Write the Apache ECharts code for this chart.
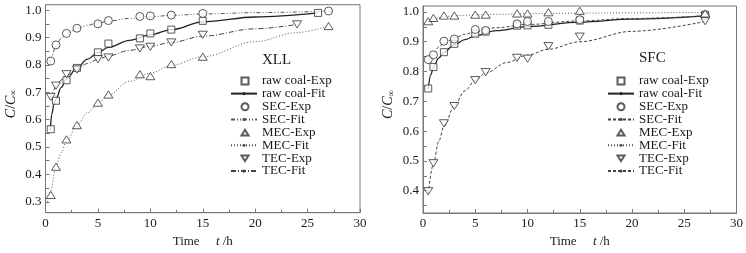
<!DOCTYPE html>
<html>
<head>
<meta charset="utf-8">
<script src="https://cdn.jsdelivr.net/npm/echarts@6.0.0/dist/echarts.min.js"></script>
<style>
  html, body { margin: 0; padding: 0; background: #fff; }
  #main { width: 746px; height: 253px; }
</style>
</head>
<body>
<div id="main"></div>
<script>
// measurement times (h)
var tExp = [0.5, 1, 2, 3, 5, 6, 9, 10, 12, 15, 27];
var tRawXLL = [0.5, 1, 2, 3, 5, 6, 9, 10, 12, 15, 26];
var tTecXLL = [0.5, 1, 2, 3, 5, 6, 9, 10, 12, 15, 24];

// XLL experimental C/C∞
var rawXLL = [0.565, 0.669, 0.744, 0.789, 0.846, 0.878, 0.897, 0.915, 0.929, 0.961, 0.990];
var secXLL = [0.814, 0.873, 0.915, 0.934, 0.950, 0.962, 0.977, 0.979, 0.982, 0.988, 0.997];
var mecXLL = [0.325, 0.428, 0.528, 0.580, 0.662, 0.692, 0.766, 0.759, 0.803, 0.830, 0.942];
var tecXLL = [0.683, 0.724, 0.766, 0.783, 0.821, 0.827, 0.860, 0.866, 0.882, 0.910, 0.948];

// XLL fitted curves
var rawFitT_XLL = [0.45, 0.6, 0.8, 1, 1.5, 2, 3, 4, 5, 6, 8, 10, 12, 15, 20, 26];
var rawFit_XLL  = [0.56, 0.62, 0.655, 0.675, 0.718, 0.748, 0.789, 0.821, 0.845, 0.864, 0.890, 0.910, 0.929, 0.957, 0.975, 0.990];
var secFitT_XLL = [0.45, 0.6, 1, 1.5, 2, 3, 4, 5, 6, 8, 10, 12, 15, 20, 27.5];
var secFit_XLL  = [0.805, 0.835, 0.870, 0.897, 0.913, 0.933, 0.945, 0.953, 0.960, 0.970, 0.976, 0.981, 0.986, 0.991, 0.997];
var mecFitT_XLL = [0.2, 0.5, 1, 1.5, 2, 3, 4, 5, 6, 8, 10, 12, 15, 20, 24, 27];
var mecFit_XLL  = [0.300, 0.340, 0.430, 0.480, 0.520, 0.580, 0.625, 0.660, 0.690, 0.740, 0.770, 0.798, 0.830, 0.885, 0.918, 0.942];
var tecFitT_XLL = [0.4, 0.6, 1, 1.5, 2, 3, 4, 5, 6, 8, 10, 12, 15, 20, 24];
var tecFit_XLL  = [0.675, 0.695, 0.722, 0.745, 0.762, 0.785, 0.805, 0.820, 0.833, 0.853, 0.868, 0.882, 0.905, 0.932, 0.948];

// SFC experimental C/C∞
var rawSFC = [0.743, 0.815, 0.865, 0.893, 0.927, 0.934, 0.954, 0.955, 0.957, 0.971, 0.991];
var secSFC = [0.840, 0.856, 0.902, 0.909, 0.941, 0.938, 0.960, 0.968, 0.968, 0.974, 0.988];
var mecSFC = [0.969, 0.980, 0.988, 0.988, 0.991, 0.991, 0.995, 0.995, 0.999, 1.004, 0.995];
var tecSFC = [0.398, 0.492, 0.626, 0.684, 0.771, 0.798, 0.846, 0.843, 0.885, 0.917, 0.969];

// SFC fitted curves
var rawFitT_SFC = [0.5, 0.75, 1, 1.5, 2, 3, 4, 5, 7, 10, 15, 20, 27];
var rawFit_SFC  = [0.740, 0.790, 0.815, 0.845, 0.865, 0.890, 0.907, 0.920, 0.937, 0.951, 0.966, 0.976, 0.987];
var secFitT_SFC = [0.5, 1, 1.5, 2, 3, 4, 5, 7, 10, 15, 20, 27];
var secFit_SFC  = [0.835, 0.862, 0.882, 0.895, 0.912, 0.925, 0.934, 0.947, 0.958, 0.970, 0.978, 0.987];
var mecFitT_SFC = [0.5, 1, 2, 3, 5, 7, 10, 15, 20, 27];
var mecFit_SFC  = [0.968, 0.977, 0.984, 0.987, 0.990, 0.992, 0.994, 0.996, 0.997, 0.998];
var tecFitT_SFC = [0.5, 1, 1.5, 2, 3, 4, 5, 6, 8, 10, 12, 15, 20, 27];
var tecFit_SFC  = [0.390, 0.490, 0.565, 0.615, 0.685, 0.735, 0.770, 0.795, 0.830, 0.855, 0.875, 0.900, 0.935, 0.968];

// tick labels
var yLabelsXLL = [0.3, 0.4, 0.5, 0.6, 0.7, 0.8, 0.9, 1.0];
var yTicksXLL = [0.3, 0.35, 0.4, 0.45, 0.5, 0.55, 0.6, 0.65, 0.7, 0.75, 0.8, 0.85, 0.9, 0.95, 1.0];
var yLabelsSFC = [0.4, 0.5, 0.6, 0.7, 0.8, 0.9, 1.0];
var yTicksSFC = [0.35, 0.4, 0.45, 0.5, 0.55, 0.6, 0.65, 0.7, 0.75, 0.8, 0.85, 0.9, 0.95, 1.0];

var expNames = ['raw coal-Exp', 'SEC-Exp', 'MEC-Exp', 'TEC-Exp'];
var fitNames = ['raw coal-Fit', 'SEC-Fit', 'MEC-Fit', 'TEC-Fit'];

var FONT = '"Liberation Serif", "Times New Roman", serif';
var AX = '#777';
var TXT = '#1a1a1a';
var UP = 'path://M1,0L2,1.6L0,1.6Z';
var DOWN = 'path://M0,0L2,0L1,1.6Z';

function pairs(ts, vs) {
    return ts.map(function (t, i) { return [t, vs[i]]; });
}

function xAxisFor(gi) {
    return {
        type: 'value', gridIndex: gi, min: 0, max: 30, interval: 5,
        axisLine: { lineStyle: { color: AX } },
        axisTick: { inside: true, length: 4, lineStyle: { color: AX } },
        minorTick: { show: true, splitNumber: 2, length: 3, lineStyle: { color: AX } },
        splitLine: { show: false },
        axisLabel: { color: TXT, fontFamily: FONT, fontSize: 13, margin: 4 },
        name: 'Time     {i|t} /h',
        nameLocation: 'middle',
        nameGap: 22,
        nameTextStyle: {
            color: TXT, fontFamily: FONT, fontSize: 13,
            rich: { i: { fontStyle: 'italic', fontFamily: FONT, fontSize: 13, color: TXT } }
        }
    };
}

function yAxisFor(gi, min, labels, ticks) {
    return {
        type: 'value', gridIndex: gi, min: min, max: 1.02,
        axisLine: { show: true, lineStyle: { color: AX } },
        axisTick: { inside: true, length: 4, customValues: ticks, lineStyle: { color: AX } },
        splitLine: { show: false },
        axisLabel: {
            color: TXT, fontFamily: FONT, fontSize: 13, margin: 4, customValues: labels,
            formatter: function (v) { return v.toFixed(1); }
        },
        name: '{i|C}/{i|C}{s|∞}',
        nameLocation: 'middle',
        nameGap: 27,
        nameTextStyle: {
            color: TXT, fontFamily: FONT, fontSize: 14, padding: [0, 0, 0, 10],
            rich: {
                i: { fontStyle: 'italic', fontFamily: FONT, fontSize: 14, color: TXT },
                s: { fontFamily: FONT, fontSize: 9, color: TXT, padding: [6, 0, 0, 0] }
            }
        }
    };
}

function expSeries(name, gi, data, symbol, size) {
    return {
        name: name, type: 'scatter', xAxisIndex: gi, yAxisIndex: gi,
        data: data, symbol: symbol, symbolSize: size, symbolKeepAspect: true,
        itemStyle: { color: '#fff', borderColor: '#333', borderWidth: 1 },
        z: 5
    };
}

function fitSeries(name, gi, data, dash, color, width) {
    return {
        name: name, type: 'line', xAxisIndex: gi, yAxisIndex: gi,
        data: data, smooth: 0.35, smoothMonotone: 'x',
        symbol: 'circle', showSymbol: false, symbolSize: 3,
        lineStyle: { color: color, width: width, type: dash },
        itemStyle: { color: color },
        z: 3
    };
}

// right panel names carry a trailing space so each legend picks up its own series style
function nm(n, gi) { return gi === 0 ? n : n + ' '; }

var chart = echarts.init(document.getElementById('main'));

var series = [
    expSeries(nm('raw coal-Exp', 0), 0, pairs(tRawXLL, rawXLL), 'rect', 7),
    fitSeries(nm('raw coal-Fit', 0), 0, pairs(rawFitT_XLL, rawFit_XLL), 'solid', '#222', 1.3),
    expSeries(nm('SEC-Exp', 0), 0, pairs(tExp, secXLL), 'circle', 8),
    fitSeries(nm('SEC-Fit', 0), 0, pairs(secFitT_XLL, secFit_XLL), [4, 2, 1, 2, 1, 2], '#555', 1),
    expSeries(nm('MEC-Exp', 0), 0, pairs(tExp, mecXLL), UP, 9),
    fitSeries(nm('MEC-Fit', 0), 0, pairs(mecFitT_XLL, mecFit_XLL), [1, 2], '#555', 1),
    expSeries(nm('TEC-Exp', 0), 0, pairs(tTecXLL, tecXLL), DOWN, 9),
    fitSeries(nm('TEC-Fit', 0), 0, pairs(tecFitT_XLL, tecFit_XLL), [5, 2, 1, 2], '#444', 1),

    expSeries(nm('raw coal-Exp', 1), 1, pairs(tExp, rawSFC), 'rect', 7),
    fitSeries(nm('raw coal-Fit', 1), 1, pairs(rawFitT_SFC, rawFit_SFC), 'solid', '#222', 1.3),
    expSeries(nm('SEC-Exp', 1), 1, pairs(tExp, secSFC), 'circle', 8),
    fitSeries(nm('SEC-Fit', 1), 1, pairs(secFitT_SFC, secFit_SFC), [3, 2], '#444', 1),
    expSeries(nm('MEC-Exp', 1), 1, pairs(tExp, mecSFC), UP, 9),
    fitSeries(nm('MEC-Fit', 1), 1, pairs(mecFitT_SFC, mecFit_SFC), [1, 2], '#555', 1),
    expSeries(nm('TEC-Exp', 1), 1, pairs(tExp, tecSFC), DOWN, 9),
    fitSeries(nm('TEC-Fit', 1), 1, pairs(tecFitT_SFC, tecFit_SFC), [3, 2], '#444', 1)
];

// legend rows are interleaved: Exp rows 0,2,4,6 and Fit rows 1,3,5,7
var ROW = 12.66, FIRST = 80.7, LINEH = 12.5;
function expLegend(gi, markerX, textX) {
    var w = 7;
    return {
        orient: 'vertical', left: markerX - w / 2, top: FIRST - LINEH / 2, padding: 0,
        itemWidth: w, itemHeight: w, itemGap: 2 * ROW - LINEH,
        selectedMode: false,
        data: expNames.map(function (n) { return nm(n, gi); }),
        textStyle: { color: TXT, fontFamily: FONT, fontSize: 13, lineHeight: LINEH,
                     padding: [0, 0, 0, textX - (markerX + w / 2 + 5)] }
    };
}
function fitLegend(gi, left) {
    return {
        orient: 'vertical', left: left, top: FIRST + ROW - LINEH / 2, padding: 0,
        itemWidth: 26, itemHeight: 4, itemGap: 2 * ROW - LINEH,
        selectedMode: false,
        data: fitNames.map(function (n) { return nm(n, gi); }),
        textStyle: { color: TXT, fontFamily: FONT, fontSize: 13, lineHeight: LINEH }
    };
}

var option = {
    animation: false,
    backgroundColor: '#fff',
    title: [
        { text: 'XLL', left: 262, top: 53, padding: 0,
          textStyle: { color: TXT, fontFamily: FONT, fontSize: 15, fontWeight: 'normal' } },
        { text: 'SFC', left: 639, top: 51, padding: 0,
          textStyle: { color: TXT, fontFamily: FONT, fontSize: 15, fontWeight: 'normal' } }
    ],
    grid: [
        { left: 45.5, top: 4.7, width: 314.5, height: 208, show: true, borderColor: AX, borderWidth: 1 },
        { left: 423, top: 6, width: 316, height: 207.3, show: true, borderColor: AX, borderWidth: 1 }
    ],
    legend: [
        expLegend(0, 244, 261), fitLegend(0, 230),
        expLegend(1, 620, 638), fitLegend(1, 607)
    ],
    xAxis: [xAxisFor(0), xAxisFor(1)],
    yAxis: [
        yAxisFor(0, 0.26, yLabelsXLL, yTicksXLL),
        yAxisFor(1, 0.325, yLabelsSFC, yTicksSFC)
    ],
    series: series
};

chart.setOption(option);
</script>
</body>
</html>
